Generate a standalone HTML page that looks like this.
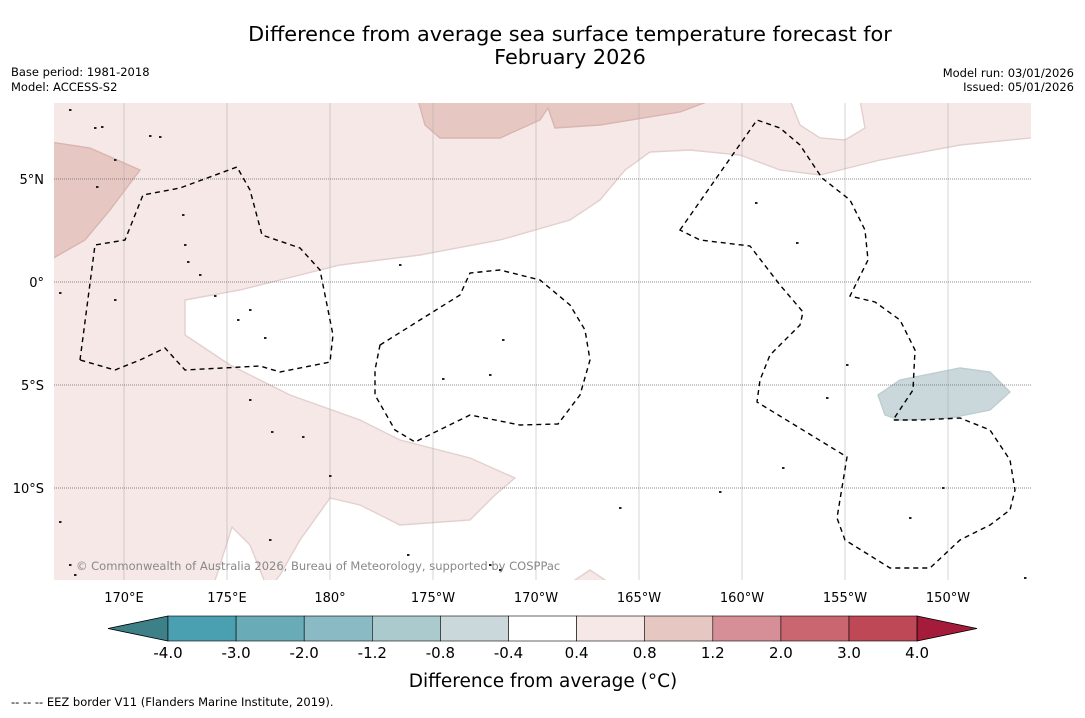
<!DOCTYPE html>
<html><head><meta charset="utf-8"><style>
body{margin:0;background:#fff;font-family:"Liberation Sans","DejaVu Sans",sans-serif}
</style></head><body>
<svg id="chart" width="1085" height="713" xmlns="http://www.w3.org/2000/svg" font-family="DejaVu Sans, Liberation Sans, sans-serif">
<text x="570" y="41" font-size="20.8" text-anchor="middle">Difference from average sea surface temperature forecast for</text>
<text x="570" y="64" font-size="20.8" text-anchor="middle">February 2026</text>
<text x="11" y="76" font-size="11.5">Base period: 1981-2018</text>
<text x="11" y="91" font-size="11.5">Model: ACCESS-S2</text>
<text x="1074" y="77" font-size="11.5" text-anchor="end">Model run: 03/01/2026</text>
<text x="1074" y="91" font-size="11.5" text-anchor="end">Issued: 05/01/2026</text>
<defs><clipPath id="mc"><rect x="54" y="103" width="977" height="477"/></clipPath></defs>
<g id="map" clip-path="url(#mc)"></g>
<g id="axes"></g>
<g id="cbar"></g>
<text x="543" y="687" font-size="18.5" text-anchor="middle">Difference from average (°C)</text>
<text x="11" y="706" font-size="11.5">-- -- -- EEZ border V11 (Flanders Marine Institute, 2019).</text>
</svg>
<script>
const NS="http://www.w3.org/2000/svg";
const lonTicks=[170,175,180,185,190,195,200,205,210];
const lonLabels=["170°E","175°E","180°","175°W","170°W","165°W","160°W","155°W","150°W"];
const latTicks=[5,0,-5,-10];
const latLabels=["5°N","0°","5°S","10°S"];
const cbLevels=["-4.0","-3.0","-2.0","-1.2","-0.8","-0.4","0.4","0.8","1.2","2.0","3.0","4.0"];
const cbColors=["#4aa0b0","#69acb8","#8abac4","#aacacd","#cad8dc","#ffffff","#f5e8e7","#e7c7c2","#d68f97","#ca6670","#bf4856"];
const pxToLL=(x,y)=>[170+(x-124)/20.6,(282-y)/20.6];
const X=lon=>124+(lon-170)*20.6, Y=lat=>282-lat*20.6;
function conv(arr){return arr.map(p=>pxToLL(p[0],p[1]));}
const whiteMain=conv([[185,300],[185,335],[230,365],[290,395],[360,420],[400,440],[470,458],[515,478],[495,495],[470,520],[400,525],[360,505],[330,498],[300,540],[280,575],[268,590],[560,590],[590,570],[620,590],[1040,590],[1040,137],[960,145],[880,160],[820,175],[780,170],[740,155],[690,150],[650,152],[625,170],[600,200],[570,220],[500,240],[420,255],[340,265],[280,280],[240,290]]);
const whiteSW=conv([[212,590],[232,527],[250,545],[268,590]]);
const whiteNE=conv([[790,100],[800,125],[820,138],[845,140],[865,128],[860,100]]);
const pinkW=conv([[50,142],[90,148],[140,170],[110,210],[85,240],[50,260]]);
const pinkN=conv([[418,100],[425,125],[440,138],[500,138],[540,120],[548,108],[555,128],[600,125],[680,112],[712,100]]);
const blueE=conv([[878,395],[900,380],[960,368],[990,372],[1010,392],[990,410],[950,418],[900,420],[885,415]]);
const eez1=conv([[80,360],[95,245],[125,240],[143,195],[180,188],[237,167],[250,190],[262,235],[300,248],[320,270],[328,310],[333,335],[330,362],[280,372],[260,366],[185,370],[165,348],[140,360],[115,370],[80,360]]);
const eez2=conv([[380,345],[460,295],[470,273],[500,270],[540,280],[570,305],[585,330],[590,360],[580,395],[558,424],[520,425],[470,415],[415,442],[395,430],[375,395],[375,370],[380,345]]);
const eez3=conv([[680,230],[757,120],[780,128],[800,145],[822,178],[850,200],[865,230],[868,260],[850,296],[875,302],[900,320],[915,350],[913,390],[893,420],[920,420],[960,418],[990,430],[1010,460],[1015,490],[1010,510],[990,525],[960,540],[930,568],[890,568],[845,540],[837,518],[847,457],[757,402],[760,380],[770,355],[800,325],[803,312],[780,285],[750,246],[700,240],[680,230]]);
const islands=conv([[70,110],[95,128],[102,127],[150,136],[160,137],[115,160],[97,187],[183,215],[185,245],[188,262],[200,275],[215,296],[238,320],[250,310],[265,338],[250,400],[272,432],[303,437],[330,476],[60,522],[70,565],[75,575],[270,540],[408,555],[490,565],[500,570],[443,379],[490,375],[503,340],[400,265],[620,508],[720,492],[783,468],[756,203],[797,243],[827,398],[847,365],[943,488],[910,518],[1025,578],[60,293],[115,300]]);
function poly(g,pts,fill,stroke,dash,name){const p=document.createElementNS(NS,"path");
p.setAttribute("d","M"+pts.map(q=>X(q[0]).toFixed(1)+","+Y(q[1]).toFixed(1)).join("L")+"Z");
p.setAttribute("fill",fill);if(stroke){p.setAttribute("stroke",stroke);p.setAttribute("stroke-width","1.4");}
if(dash)p.setAttribute("stroke-dasharray",dash);


g.appendChild(p);}
const map=document.getElementById("map");
const bg=document.createElementNS(NS,"rect");bg.setAttribute("x",54);bg.setAttribute("y",103);bg.setAttribute("width",977);bg.setAttribute("height",477);bg.setAttribute("fill","#f5e8e7");


map.appendChild(bg);
poly(map,whiteMain,"#ffffff","#e3d0ce",null,"neutral-region");
poly(map,whiteSW,"#ffffff","#e3d0ce",null,"neutral-region-sw");
poly(map,whiteNE,"#ffffff","#e3d0ce",null,"neutral-region-ne");
poly(map,pinkW,"#e7c7c2","#d9b5b0",null,"warm-region-west");
poly(map,pinkN,"#e7c7c2","#d9b5b0",null,"warm-region-north");
poly(map,blueE,"#cad8dc","#bccdd0",null,"cool-region-east");
lonTicks.forEach((l,i)=>{const ln=document.createElementNS(NS,"line");ln.setAttribute("x1",X(l));ln.setAttribute("x2",X(l));ln.setAttribute("y1",103);ln.setAttribute("y2",580);ln.setAttribute("stroke","#aaa");ln.setAttribute("stroke-width","0.5");


map.appendChild(ln);});
latTicks.forEach(l=>{const ln=document.createElementNS(NS,"line");ln.setAttribute("x1",54);ln.setAttribute("x2",1031);ln.setAttribute("y1",Y(l));ln.setAttribute("y2",Y(l));ln.setAttribute("stroke","#666");ln.setAttribute("stroke-width","0.7");ln.setAttribute("stroke-dasharray","1,1");


map.appendChild(ln);});
poly(map,eez1,"none","#000","5,4","eez-border-west");
poly(map,eez2,"none","#000","5,4","eez-border-central");
poly(map,eez3,"none","#000","5,4","eez-border-east");
islands.forEach(p=>{const c=document.createElementNS(NS,"rect");c.setAttribute("x",X(p[0])-1);c.setAttribute("y",Y(p[1])-1);c.setAttribute("width",2.5);c.setAttribute("height",2);c.setAttribute("fill","#222");


map.appendChild(c);});
const cp=document.createElementNS(NS,"text");cp.setAttribute("x",76);cp.setAttribute("y",570);cp.setAttribute("font-size","11.5");cp.setAttribute("fill","#888");cp.textContent="© Commonwealth of Australia 2026, Bureau of Meteorology, supported by COSPPac";


map.appendChild(cp);
const ax=document.getElementById("axes");
lonTicks.forEach((l,i)=>{const t=document.createElementNS(NS,"text");t.setAttribute("x",X(l));t.setAttribute("y",602);t.setAttribute("font-size","13");t.setAttribute("text-anchor","middle");t.textContent=lonLabels[i];


ax.appendChild(t);});
latTicks.forEach((l,i)=>{const t=document.createElementNS(NS,"text");t.setAttribute("x",44);t.setAttribute("y",Y(l)+5);t.setAttribute("font-size","13");t.setAttribute("text-anchor","end");t.textContent=latLabels[i];


ax.appendChild(t);});
const cb=document.getElementById("cbar");
const cx0=168,cw=68.1,cy=616,ch=25;
const lt=document.createElementNS(NS,"path");lt.setAttribute("d",`M${cx0},${cy}L108,${cy+ch/2}L${cx0},${cy+ch}Z`);lt.setAttribute("fill","#3d8088");lt.setAttribute("stroke","#000");lt.setAttribute("stroke-width","0.8");


cb.appendChild(lt);
cbColors.forEach((c,i)=>{const r=document.createElementNS(NS,"rect");r.setAttribute("x",cx0+i*cw);r.setAttribute("y",cy);r.setAttribute("width",cw);r.setAttribute("height",ch);r.setAttribute("fill",c);r.setAttribute("stroke","#000");r.setAttribute("stroke-width","0.6");


cb.appendChild(r);});
const xe=cx0+cbColors.length*cw;
const rt=document.createElementNS(NS,"path");rt.setAttribute("d",`M${xe},${cy}L977,${cy+ch/2}L${xe},${cy+ch}Z`);rt.setAttribute("fill","#a51c3a");rt.setAttribute("stroke","#000");rt.setAttribute("stroke-width","0.8");


cb.appendChild(rt);
cbLevels.forEach((s,i)=>{const t=document.createElementNS(NS,"text");t.setAttribute("x",cx0+i*cw);t.setAttribute("y",658);t.setAttribute("font-size","15");t.setAttribute("text-anchor","middle");t.textContent=s;


cb.appendChild(t);});
</script>
</body></html>
